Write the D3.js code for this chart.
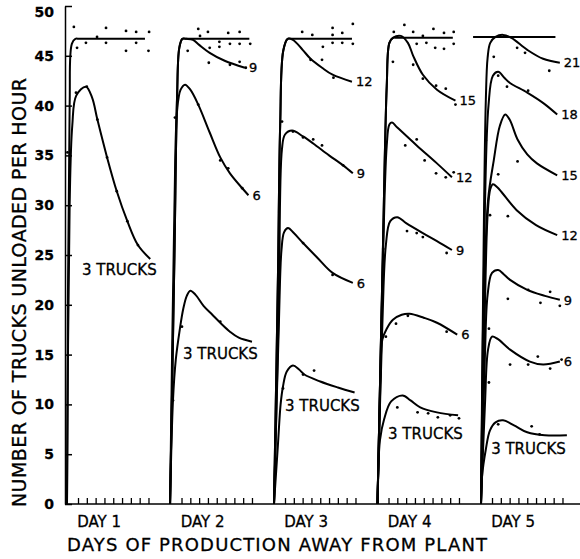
<!DOCTYPE html>
<html>
<head>
<meta charset="utf-8">
<script src="https://cdn.jsdelivr.net/npm/d3@7"></script>
<style>
  body { margin: 0; background: #fff; }
  svg text { font-family: "DejaVu Sans", sans-serif; fill: #000; stroke: #000; stroke-width: 0.3px; }
</style>
</head>
<body>
<div id="chart"></div>
<script>
// Values: [hour of the day, trucks unloaded per hour]
var dayNames = ['DAY 1', 'DAY 2', 'DAY 3', 'DAY 4', 'DAY 5']
var yTicks = [0, 5, 10, 15, 20, 25, 30, 35, 40, 45, 50]
var hourTicks = [1, 2, 3, 4, 5, 6, 7, 8, 9]

// trucks: null is the plant capacity line
var day1Curves = [
  { trucks: null, pts: [[-0.25, 0], [0.05, 40], [0.3, 46.2], [0.7, 46.7], [1.2, 46.7], [8.6, 46.7]] },
  { trucks: 3, pts: [[-0.25, 0], [0.05, 30], [0.35, 38], [0.8, 41], [1.9, 41.9], [2.6, 40.8], [3.2, 38.6], [4.3, 34.8], [5.4, 31.4], [6.6, 28.4], [7.8, 26.0], [9.2, 24.6]] }
]
var day2Curves = [
  { trucks: null, pts: [[-0.3, 0], [0.2, 25], [0.5, 41], [0.75, 45.8], [1.1, 46.7], [1.6, 46.7], [8.7, 46.7]] },
  { trucks: 9, pts: [[-0.3, 0], [0.2, 25], [0.5, 41], [0.75, 45.8], [1.1, 46.7], [1.6, 46.7], [2.3, 46.6], [3.0, 46.1], [4.2, 45.3], [5.9, 44.5], [8.2, 43.8]] },
  { trucks: 6, pts: [[-0.3, 0], [0.2, 30], [0.5, 39.5], [0.9, 41.6], [1.4, 42.1], [2.0, 41.6], [2.9, 40.1], [4.2, 37.3], [5.4, 34.8], [6.5, 33.2], [7.9, 31.7], [8.6, 31.0]] },
  { trucks: 3, pts: [[-0.3, 0], [0.03, 10.4], [0.35, 14.5], [0.8, 17.5], [1.2, 19.6], [1.6, 20.9], [2.0, 21.4], [2.6, 21.0], [3.5, 19.9], [4.5, 19.0], [5.4, 18.2], [6.5, 17.3], [7.5, 16.7], [9.0, 16.3]] }
]
var day3Curves = [
  { trucks: null, pts: [[-0.25, 0], [0.2, 23], [0.45, 38], [0.8, 45.5], [1.3, 46.7], [1.8, 46.7], [8.6, 46.7]] },
  { trucks: 12, pts: [[-0.25, 0], [0.2, 23], [0.45, 38], [0.8, 45.5], [1.3, 46.7], [1.9, 46.6], [3.0, 45.6], [3.9, 44.7], [5.2, 43.8], [6.4, 43.1], [8.6, 42.4]] },
  { trucks: 9, pts: [[-0.25, 0], [0.3, 20], [0.65, 35.6], [1.0, 37.1], [1.8, 37.5], [3.05, 36.9], [4.2, 36.2], [6.0, 35.0], [7.6, 34.0], [8.7, 33.2]] },
  { trucks: 6, pts: [[-0.25, 0], [0.3, 18], [0.6, 25.5], [0.9, 27.3], [1.34, 27.7], [2.0, 27.2], [3.05, 26.2], [4.7, 24.7], [6.4, 23.2], [8.7, 22.2]] },
  { trucks: 3, pts: [[-0.25, 0], [0.2, 6], [0.5, 10], [0.77, 11.8], [1.2, 13.3], [1.9, 13.9], [2.6, 13.5], [3.2, 13.0], [5.0, 12.3], [7.0, 11.7], [8.9, 11.2]] }
]
var day4Curves = [
  { trucks: null, pts: [[-0.25, 0], [0.35, 25], [0.8, 42], [1.1, 46.3], [1.5, 46.8], [2.0, 46.8], [8.3, 46.8]] },
  { trucks: 15, pts: [[-0.25, 0], [0.35, 25], [0.8, 42], [1.1, 46.3], [1.5, 46.8], [2.4, 47.0], [3.2, 46.3], [3.8, 45.0], [4.9, 43.1], [6.5, 41.6], [8.6, 40.5]] },
  { trucks: 12, pts: [[-0.25, 0], [0.3, 22], [0.8, 36], [1.1, 38.1], [1.4, 38.3], [2.0, 37.8], [4.2, 36.0], [6.5, 34.2], [8.2, 32.8]] },
  { trucks: 9, pts: [[-0.25, 0], [0.3, 18], [0.7, 26], [1.2, 28.4], [2.0, 28.8], [3.0, 28.2], [4.9, 27.2], [6.5, 26.4], [8.2, 25.5]] },
  { trucks: 6, pts: [[-0.25, 0], [0.1, 13], [0.3, 16.5], [0.8, 17.6], [1.5, 18.5], [2.5, 19.0], [3.4, 19.1], [5.0, 18.7], [6.5, 18.2], [8.8, 17.0]] },
  { trucks: 3, pts: [[-0.25, 0], [0.03, 6.4], [0.5, 8.5], [1.3, 10.3], [2.6, 10.9], [3.5, 10.4], [4.6, 9.7], [6.5, 9.2], [8.9, 8.9]] }
]
var day5Curves = [
  { trucks: null, pts: [[-1.15, 46.9], [8.2, 46.9]] },
  { trucks: 21, pts: [[-0.25, 0], [0.1, 30], [0.3, 40.6], [0.5, 44.8], [0.8, 46.3], [1.4, 46.9], [2.25, 47.1], [3.2, 46.8], [5.0, 45.6], [6.8, 44.7], [8.7, 44.3]] },
  { trucks: 18, pts: [[-0.25, 0], [0.2, 30], [0.6, 40], [1.1, 43.0], [1.7, 43.4], [2.4, 42.8], [3.0, 42.3], [5.0, 41.3], [6.9, 40.2], [8.4, 39.1]] },
  { trucks: 15, pts: [[-0.25, 0], [0.1, 20], [0.55, 30.5], [1.2, 34.5], [1.9, 38], [2.5, 39.1], [3.0, 38.6], [3.9, 36.6], [5.0, 35.1], [6.1, 34.2], [8.4, 33.0]] },
  { trucks: 12, pts: [[-0.25, 0], [0.2, 20], [0.5, 29], [0.8, 31.6], [1.1, 32.1], [1.6, 31.8], [2.1, 31.3], [3.8, 29.5], [6.0, 28.0], [8.4, 27.0]] },
  { trucks: 9, pts: [[-0.25, 0], [0.2, 15], [0.5, 21], [1.0, 23.2], [1.7, 23.5], [2.3, 23.1], [3.05, 22.5], [5.0, 21.5], [7.0, 20.9], [8.7, 20.5]] },
  { trucks: 6, pts: [[-0.25, 0], [0.2, 10], [0.55, 15.5], [1.0, 16.8], [1.6, 16.6], [3.05, 15.5], [5.3, 14.3], [6.8, 14.0], [8.7, 14.3]] },
  { trucks: 3, pts: [[-0.25, 0], [-0.14, 2.7], [0.3, 5.5], [0.77, 7.4], [1.4, 8.2], [2.25, 8.4], [3.5, 7.9], [5.0, 7.2], [7.0, 6.9], [9.5, 6.9]] }
]

// observed points
var day1Dots = [[-0.2, 35.3], [0.77, 41.3], [2.0, 41.9], [3.2, 38.6], [4.3, 34.8], [5.4, 31.4], [6.6, 28.4], [7.8, 26.0],
  [0.53, 47.9], [0.89, 45.8], [1.9, 46.3], [3.16, 46.9], [4.18, 47.8], [4.18, 46.3], [6.45, 47.5], [6.45, 45.5], [7.6, 47.4], [7.6, 46.3], [9.07, 47.4], [9.0, 45.5]]
var day2Dots = [[2.9, 47.7], [4.0, 47.4], [6.3, 47.3], [7.6, 47.4], [3.1, 47.0], [1.7, 45.5], [4.2, 45.8], [5.3, 46.4], [5.3, 45.9], [6.5, 46.2], [7.6, 46.2], [8.8, 46.2],
  [4.1, 44.3], [6.5, 44.1], [7.6, 44.4], [8.3, 43.8], [2.9, 40.1], [5.4, 34.5], [6.3, 33.7], [7.9, 31.7], [0.26, 38.8], [1.05, 17.8], [5.4, 18.3], [0.03, 10.4]]
var day3Dots = [[2.95, 47.4], [4.1, 47.1], [6.4, 47.8], [6.4, 47.1], [7.5, 47.3], [8.7, 48.2], [5.3, 45.9], [6.4, 46.3], [7.5, 46.3], [8.7, 46.2], [3.9, 44.6], [5.2, 44.6], [6.5, 42.8],
  [0.66, 38.4], [1.9, 37.4], [3.05, 36.8], [4.2, 36.6], [5.2, 36.0], [7.6, 34.0], [3.05, 26.2], [6.4, 23.0], [0.77, 11.6], [3.05, 13.0], [4.3, 13.4]]
var day4Dots = [[1.6, 47.4], [2.8, 48.1], [3.8, 47.4], [4.9, 47.0], [6.1, 47.7], [7.3, 47.3], [8.4, 47.4], [4.2, 46.2], [5.3, 46.3], [6.3, 45.8], [7.3, 45.7], [8.4, 46.2],
  [1.5, 44.4], [3.8, 44.1], [4.9, 42.7], [6.4, 42.0], [7.5, 41.7], [8.6, 40.1], [2.9, 36.0], [4.2, 36.6], [5.1, 34.5], [6.4, 33.2], [7.5, 32.8], [8.4, 33.3],
  [3.1, 27.4], [4.2, 27.2], [4.9, 26.8], [7.6, 25.2], [0.4, 25.6], [1.85, 18.1], [3.2, 18.9], [7.6, 17.3], [0.7, 16.8],
  [2.0, 9.7], [4.3, 9.2], [5.5, 9.1], [6.6, 8.7], [8.0, 8.9], [9.0, 8.6]]
var day5Dots = [[1.2, 44.9], [3.85, 45.8], [4.75, 45.3], [7.5, 43.5], [2.7, 41.9], [5.1, 41.5], [1.7, 43.0], [0.3, 36.5], [3.9, 34.4], [1.7, 33.1], [2.8, 28.9], [0.77, 29.0],
  [2.8, 20.6], [5.1, 21.5], [6.5, 20.2], [7.6, 21.3], [8.7, 19.9], [0.65, 17.6], [3.05, 14.0], [5.1, 14.0], [6.2, 14.8], [7.6, 13.6], [0.65, 12.2], [8.9, 14.5],
  [1.7, 8.0], [5.5, 7.8], [6.4, 7.0]]

// where the "3 TRUCKS" note sits on each day: [hour, value]
var threeTruckNotes = [[1.45, 23.0], [1.17, 14.6], [1.0, 9.3], [0.95, 6.5], [0.9, 5.0]]

var allCurves = [day1Curves, day2Curves, day3Curves, day4Curves, day5Curves]
var allDots = [day1Dots, day2Dots, day3Dots, day4Dots, day5Dots]

// Setup
var width = 580
var height = 559
var DAY_SPAN = 11.75
var HOUR0 = 0.25

var svg = d3.select('#chart').append('svg')
  .attr('width', width)
  .attr('height', height)

var x = d3.scaleLinear()
  .domain([0, 5 * DAY_SPAN])
  .range([67, 67 + 5 * 103.5])

var y = d3.scaleLinear()
  .domain([0, 50])
  .range([504, 6])

function px(day, h) {
  return x(day * DAY_SPAN + HOUR0 + h)
}

// Axes
svg.append('g')
  .attr('transform', 'translate(65,0)')
  .call(d3.axisLeft(y).tickValues(yTicks).tickSize(-7).tickSizeOuter(0).tickPadding(11))
  .attr('font-family', '"DejaVu Sans", sans-serif')
  .attr('font-size', 14)
  .attr('font-weight', 'bold')
  .call(g => g.select('.domain').attr('stroke-width', 1.5))
  .call(g => g.selectAll('.tick line').attr('stroke-width', 1.5))
  .call(g => g.selectAll('.tick text').filter(d => d === 50).attr('dy', '0.75em'))

var xTickValues = []
dayNames.forEach(function (d, i) {
  hourTicks.forEach(function (h) { xTickValues.push(i * DAY_SPAN + HOUR0 + h) })
})

svg.append('g')
  .attr('transform', 'translate(0,504)')
  .call(d3.axisBottom(x).tickValues(xTickValues).tickSize(-6).tickSizeOuter(0).tickFormat(''))
  .call(g => g.select('.domain').attr('stroke-width', 1.5).attr('d', 'M65,0H580'))
  .call(g => g.selectAll('.tick line').attr('stroke-width', 1.3))

svg.selectAll('text.day')
  .data(dayNames)
  .enter()
  .append('text')
  .attr('class', 'day')
  .attr('x', (d, i) => px(i, 0.9))
  .attr('y', 527)
  .attr('font-size', 15)
  .text(d => d)

svg.append('text')
  .attr('x', 67)
  .attr('y', 551)
  .attr('font-size', 18)
  .attr('textLength', 420)
  .attr('lengthAdjust', 'spacing')
  .text('DAYS OF PRODUCTION AWAY FROM PLANT')

svg.append('text')
  .attr('transform', 'translate(26,507) rotate(-90)')
  .attr('font-size', 19)
  .attr('textLength', 429)
  .attr('lengthAdjust', 'spacing')
  .text('NUMBER OF TRUCKS UNLOADED PER HOUR')

// Curves
allCurves.forEach(function (curves, i) {
  var line = d3.line()
    .x(p => px(i, p[0]))
    .y(p => y(p[1]))
    .curve(d3.curveCatmullRom.alpha(0.5))

  var g = svg.append('g').attr('class', 'day-' + (i + 1))

  g.selectAll('path')
    .data(curves)
    .enter()
    .append('path')
    .attr('d', c => line(c.pts))
    .attr('fill', 'none')
    .attr('stroke', 'black')
    .attr('stroke-width', 2)
    .attr('stroke-linejoin', 'round')

  g.selectAll('text.end')
    .data(curves.filter(c => c.trucks && c.trucks !== 3))
    .enter()
    .append('text')
    .attr('class', 'end')
    .attr('x', c => px(i, c.pts[c.pts.length - 1][0]) + 4)
    .attr('y', c => y(c.pts[c.pts.length - 1][1]))
    .attr('dy', '0.36em')
    .attr('font-size', 13)
    .text(c => c.trucks)

  g.append('text')
    .attr('x', px(i, threeTruckNotes[i][0]))
    .attr('y', y(threeTruckNotes[i][1]))
    .attr('font-size', 15)
    .text('3 TRUCKS')

  g.selectAll('circle')
    .data(allDots[i])
    .enter()
    .append('circle')
    .attr('cx', p => px(i, p[0]))
    .attr('cy', p => y(p[1]))
    .attr('r', 1.4)
    .attr('fill', 'black')
})
</script>
</body>
</html>
